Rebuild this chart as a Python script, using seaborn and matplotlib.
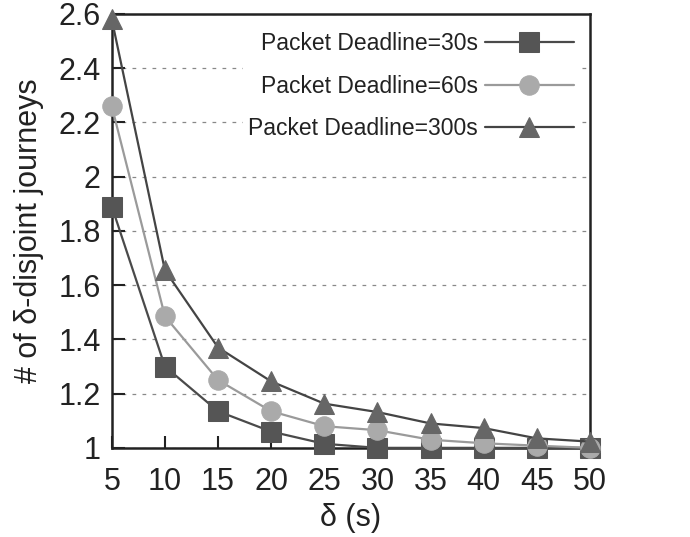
import matplotlib
matplotlib.use("Agg")
import matplotlib.pyplot as plt
import seaborn as sns
import pandas as pd

delta = [5, 10, 15, 20, 25, 30, 35, 40, 45, 50]
deadline_30 = [1.89, 1.30, 1.135, 1.06, 1.015, 1.0, 1.0, 1.0, 1.0, 1.0]
deadline_60 = [2.26, 1.485, 1.25, 1.135, 1.08, 1.065, 1.03, 1.017, 1.008, 1.0]
deadline_300 = [2.58, 1.655, 1.37, 1.245, 1.163, 1.132, 1.09, 1.073, 1.035, 1.023]
labels = ["Packet Deadline=30s", "Packet Deadline=60s", "Packet Deadline=300s"]
y_ticks = [1, 1.2, 1.4, 1.6, 1.8, 2, 2.2, 2.4, 2.6]
y_ticklabels = ["1", "1.2", "1.4", "1.6", "1.8", "2", "2.2", "2.4", "2.6"]

sns.set_style("white")
plt.rcParams["font.family"] = ["Liberation Sans", "DejaVu Sans"]

fig = plt.figure(figsize=(6.9, 5.37), dpi=100)
ax = fig.add_axes([0.162, 0.166, 0.693, 0.808])

series = [
    (deadline_30, labels[0], "s", "#4a4a4a", "#555555", 14),
    (deadline_60, labels[1], "o", "#9a9a9a", "#aaaaaa", 14),
    (deadline_300, labels[2], "^", "#444444", "#666666", 14),
]
for vals, lab, mk, lc, mc, ms in series:
    df = pd.DataFrame({"delta": delta, "value": vals})
    sns.lineplot(data=df, x="delta", y="value", ax=ax, color=lc, marker=mk,
                 markersize=ms, markerfacecolor=mc, markeredgecolor=mc,
                 linewidth=1.6, label=lab, clip_on=False, zorder=3)

ax.set_xlim(5, 50)
ax.set_ylim(1, 2.6)
ax.set_xticks(delta)
ax.set_xticklabels([str(d) for d in delta])
ax.set_yticks(y_ticks)
ax.set_yticklabels(y_ticklabels)
ax.tick_params(axis="both", which="both", direction="in", length=9, width=1.5,
               labelsize=22, colors="#222222", top=False, right=False,
               left=True, bottom=True)
ax.tick_params(axis="x", pad=14)
ax.tick_params(axis="y", pad=8)
ax.yaxis.grid(True, linestyle=(0, (3, 5)), color="#888888", linewidth=0.9)
ax.xaxis.grid(False)
for sp in ax.spines.values():
    sp.set_color("#222222")
    sp.set_linewidth(1.8)

ax.set_xlabel("δ (s)", fontsize=22, color="#222222", labelpad=4)
ax.set_ylabel("# of δ-disjoint journeys", fontsize=22, color="#222222", labelpad=10)

leg = ax.legend(loc="upper right", bbox_to_anchor=(1.0, 0.995), markerfirst=False,
                frameon=True, fontsize=16.5, handlelength=3.9, labelspacing=0.85,
                borderpad=0.2, handletextpad=0.3, facecolor="white", edgecolor="none",
                framealpha=1.0)
for t in leg.get_texts():
    t.set_color("#222222")

fig.savefig("out.png", dpi=100)
